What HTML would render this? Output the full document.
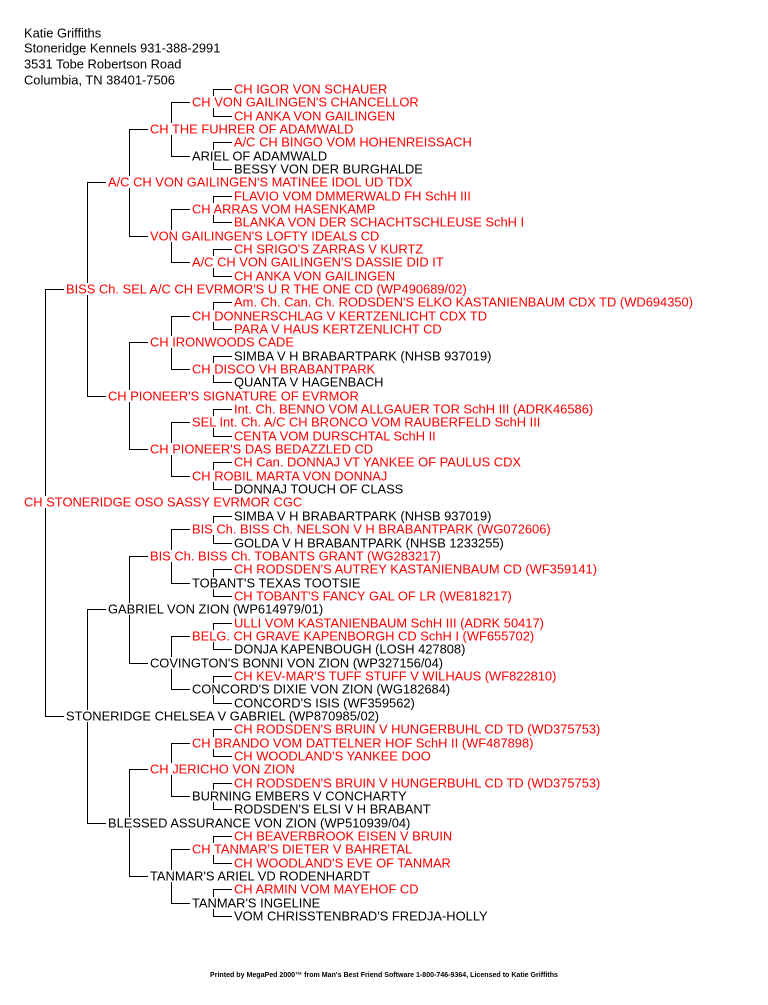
<!DOCTYPE html>
<html><head><meta charset="utf-8"><style>
html,body{margin:0;padding:0;background:#fff;width:768px;height:1005px;overflow:hidden}
svg{display:block}
text{font-family:"Liberation Sans",Arial,sans-serif;font-size:12.9px}
.r{fill:#ff0000}.b{fill:#000}
</style></head><body>
<svg width="768" height="1005" viewBox="0 0 768 1005">
<g class="b">
<text x="24" y="37.5">Katie Griffiths</text>
<text x="24" y="52.5">Stoneridge Kennels 931-388-2991</text>
<text x="24" y="68.5">3531 Tobe Robertson Road</text>
<text x="24" y="84.5">Columbia, TN 38401-7506</text>
</g>
<g fill="none" stroke="#000" stroke-width="1" shape-rendering="crispEdges">
<path d="M232 89.5H213.5V96M213.5 108V116.5H232"/>
<path d="M232 142.5H213.5V150M213.5 162V169.5H232"/>
<path d="M232 196.5H213.5V203M213.5 215V222.5H232"/>
<path d="M232 249.5H213.5V256M213.5 268V276.5H232"/>
<path d="M232 302.5H213.5V310M213.5 322V329.5H232"/>
<path d="M232 356.5H213.5V363M213.5 375V382.5H232"/>
<path d="M232 409.5H213.5V416M213.5 428V436.5H232"/>
<path d="M232 462.5H213.5V470M213.5 482V489.5H232"/>
<path d="M232 516.5H213.5V523M213.5 535V543.5H232"/>
<path d="M232 569.5H213.5V577M213.5 589V596.5H232"/>
<path d="M232 623.5H213.5V630M213.5 642V649.5H232"/>
<path d="M232 676.5H213.5V683M213.5 695V703.5H232"/>
<path d="M232 729.5H213.5V737M213.5 749V756.5H232"/>
<path d="M232 783.5H213.5V790M213.5 802V809.5H232"/>
<path d="M232 836.5H213.5V843M213.5 855V863.5H232"/>
<path d="M232 889.5H213.5V897M213.5 909V916.5H232"/>
<path d="M190 102.5H171.5V123M171.5 135V156.5H190"/>
<path d="M190 209.5H171.5V230M171.5 242V262.5H190"/>
<path d="M190 316.5H171.5V336M171.5 348V369.5H190"/>
<path d="M190 422.5H171.5V443M171.5 455V476.5H190"/>
<path d="M190 529.5H171.5V550M171.5 562V583.5H190"/>
<path d="M190 636.5H171.5V657M171.5 669V689.5H190"/>
<path d="M190 743.5H171.5V763M171.5 775V796.5H190"/>
<path d="M190 849.5H171.5V870M171.5 882V903.5H190"/>
<path d="M148 129.5H129.5V176M129.5 188V236.5H148"/>
<path d="M148 342.5H129.5V390M129.5 402V449.5H148"/>
<path d="M148 556.5H129.5V603M129.5 615V663.5H148"/>
<path d="M148 769.5H129.5V817M129.5 829V876.5H148"/>
<path d="M106 182.5H87.5V283M87.5 295V396.5H106"/>
<path d="M106 609.5H87.5V710M87.5 722V823.5H106"/>
<path d="M64 289.5H45.5V496M45.5 508V716.5H64"/>
</g>
<g transform="translate(0,0.5)">
<text class="r" x="234" y="93">CH IGOR VON SCHAUER</text>
<text class="r" x="192" y="106">CH VON GAILINGEN'S CHANCELLOR</text>
<text class="r" x="234" y="120">CH ANKA VON GAILINGEN</text>
<text class="r" x="150" y="133">CH THE FUHRER OF ADAMWALD</text>
<text class="r" x="234" y="146">A/C CH BINGO VOM HOHENREISSACH</text>
<text class="b" x="192" y="160">ARIEL OF ADAMWALD</text>
<text class="b" x="234" y="173">BESSY VON DER BURGHALDE</text>
<text class="r" x="108" y="186">A/C CH VON GAILINGEN'S MATINEE IDOL UD TDX</text>
<text class="r" x="234" y="200">FLAVIO VOM DMMERWALD FH SchH III</text>
<text class="r" x="192" y="213">CH ARRAS VOM HASENKAMP</text>
<text class="r" x="234" y="226">BLANKA VON DER SCHACHTSCHLEUSE SchH I</text>
<text class="r" x="150" y="240">VON GAILINGEN'S LOFTY IDEALS CD</text>
<text class="r" x="234" y="253">CH SRIGO'S ZARRAS V KURTZ</text>
<text class="r" x="192" y="266">A/C CH VON GAILINGEN'S DASSIE DID IT</text>
<text class="r" x="234" y="280">CH ANKA VON GAILINGEN</text>
<text class="r" x="66" y="293">BISS Ch. SEL A/C CH EVRMOR'S U R THE ONE CD (WP490689/02)</text>
<text class="r" x="234" y="306">Am. Ch. Can. Ch. RODSDEN'S ELKO KASTANIENBAUM CDX TD (WD694350)</text>
<text class="r" x="192" y="320">CH DONNERSCHLAG V KERTZENLICHT CDX TD</text>
<text class="r" x="234" y="333">PARA V HAUS KERTZENLICHT CD</text>
<text class="r" x="150" y="346">CH IRONWOODS CADE</text>
<text class="b" x="234" y="360">SIMBA V H BRABARTPARK (NHSB 937019)</text>
<text class="r" x="192" y="373">CH DISCO VH BRABANTPARK</text>
<text class="b" x="234" y="386">QUANTA V HAGENBACH</text>
<text class="r" x="108" y="400">CH PIONEER'S SIGNATURE OF EVRMOR</text>
<text class="r" x="234" y="413">Int. Ch. BENNO VOM ALLGAUER TOR SchH III (ADRK46586)</text>
<text class="r" x="192" y="426">SEL Int. Ch. A/C CH BRONCO VOM RAUBERFELD SchH III</text>
<text class="r" x="234" y="440">CENTA VOM DURSCHTAL SchH II</text>
<text class="r" x="150" y="453">CH PIONEER'S DAS BEDAZZLED CD</text>
<text class="r" x="234" y="466">CH Can. DONNAJ VT YANKEE OF PAULUS CDX</text>
<text class="r" x="192" y="480">CH ROBIL MARTA VON DONNAJ</text>
<text class="b" x="234" y="493">DONNAJ TOUCH OF CLASS</text>
<text class="r" x="24" y="506">CH STONERIDGE OSO SASSY EVRMOR CGC</text>
<text class="b" x="234" y="520">SIMBA V H BRABARTPARK (NHSB 937019)</text>
<text class="r" x="192" y="533">BIS Ch. BISS Ch. NELSON V H BRABANTPARK (WG072606)</text>
<text class="b" x="234" y="547">GOLDA V H BRABANTPARK (NHSB 1233255)</text>
<text class="r" x="150" y="560">BIS Ch. BISS Ch. TOBANTS GRANT (WG283217)</text>
<text class="r" x="234" y="573">CH RODSDEN'S AUTREY KASTANIENBAUM CD (WF359141)</text>
<text class="b" x="192" y="587">TOBANT'S TEXAS TOOTSIE</text>
<text class="r" x="234" y="600">CH TOBANT'S FANCY GAL OF LR (WE818217)</text>
<text class="b" x="108" y="613">GABRIEL VON ZION (WP614979/01)</text>
<text class="r" x="234" y="627">ULLI VOM KASTANIENBAUM SchH III (ADRK 50417)</text>
<text class="r" x="192" y="640">BELG. CH GRAVE KAPENBORGH CD SchH I (WF655702)</text>
<text class="b" x="234" y="653">DONJA KAPENBOUGH (LOSH 427808)</text>
<text class="b" x="150" y="667">COVINGTON'S BONNI VON ZION (WP327156/04)</text>
<text class="r" x="234" y="680">CH KEV-MAR'S TUFF STUFF V WILHAUS (WF822810)</text>
<text class="b" x="192" y="693">CONCORD'S DIXIE VON ZION (WG182684)</text>
<text class="b" x="234" y="707">CONCORD'S ISIS (WF359562)</text>
<text class="b" x="66" y="720">STONERIDGE CHELSEA V GABRIEL (WP870985/02)</text>
<text class="r" x="234" y="733">CH RODSDEN'S BRUIN V HUNGERBUHL CD TD (WD375753)</text>
<text class="r" x="192" y="747">CH BRANDO VOM DATTELNER HOF SchH II (WF487898)</text>
<text class="r" x="234" y="760">CH WOODLAND'S YANKEE DOO</text>
<text class="r" x="150" y="773">CH JERICHO VON ZION</text>
<text class="r" x="234" y="787">CH RODSDEN'S BRUIN V HUNGERBUHL CD TD (WD375753)</text>
<text class="b" x="192" y="800">BURNING EMBERS V CONCHARTY</text>
<text class="b" x="234" y="813">RODSDEN'S ELSI V H BRABANT</text>
<text class="b" x="108" y="827">BLESSED ASSURANCE VON ZION (WP510939/04)</text>
<text class="r" x="234" y="840">CH BEAVERBROOK EISEN V BRUIN</text>
<text class="r" x="192" y="853">CH TANMAR'S DIETER V BAHRETAL</text>
<text class="r" x="234" y="867">CH WOODLAND'S EVE OF TANMAR</text>
<text class="b" x="150" y="880">TANMAR'S ARIEL VD RODENHARDT</text>
<text class="r" x="234" y="893">CH ARMIN VOM MAYEHOF CD</text>
<text class="b" x="192" y="907">TANMAR'S INGELINE</text>
<text class="b" x="234" y="920">VOM CHRISSTENBRAD'S FREDJA-HOLLY</text>
</g>
<text class="b" x="210" y="977" style="font-size:7px;font-weight:bold" textLength="348" lengthAdjust="spacingAndGlyphs">Printed by MegaPed 2000™ from Man's Best Friend Software 1-800-746-9364, Licensed to Katie Griffiths</text>
</svg>
</body></html>
